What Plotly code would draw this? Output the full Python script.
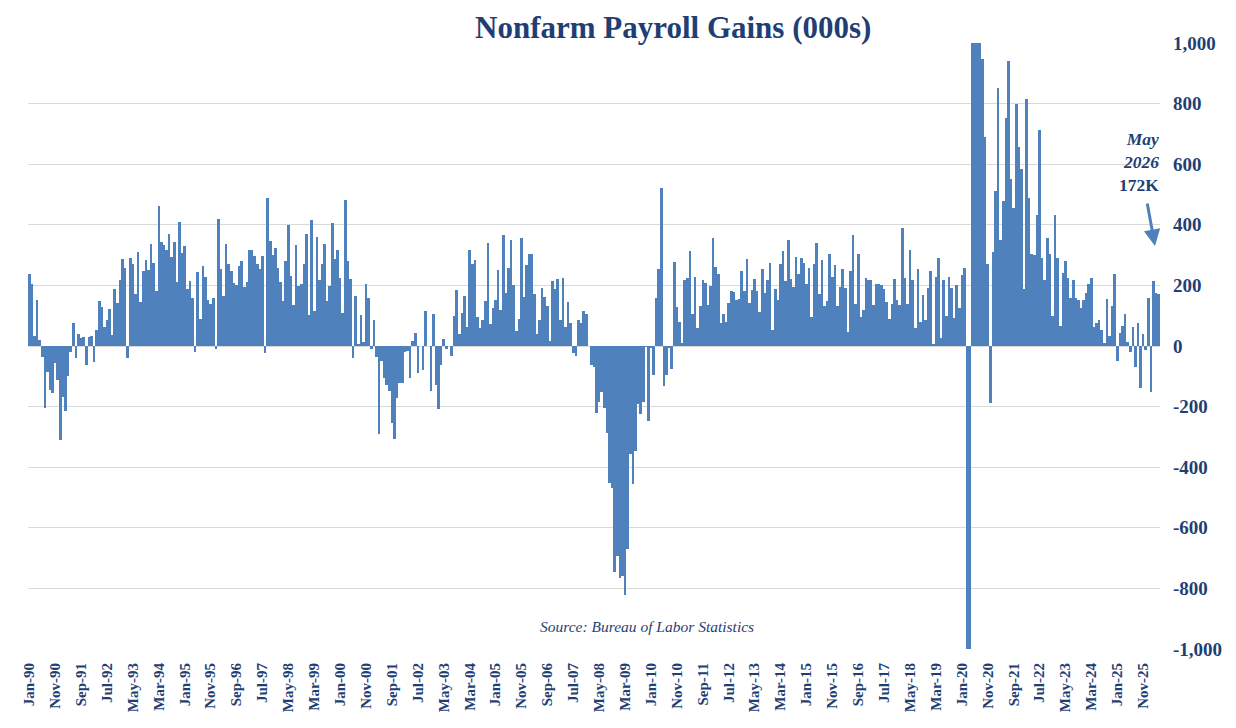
import plotly.graph_objects as go

# ---------------- data (thousands of jobs, monthly change) ----------------
y1990 = [237, 204, 33, 152, 20, -35, -205, -85, -145, -154, -55, -112]
y1991 = [-310, -167, -216, -98, -20, 75, -38, 40, 25, 30, -62, 29]
y1992 = [33, -52, 53, 148, 130, 62, 86, 123, 35, 188, 143, 218]
y1993 = [287, 257, -40, 292, 270, 171, 310, 146, 248, 283, 250, 336]
y1994 = [275, 182, 461, 344, 333, 316, 369, 295, 343, 212, 409, 308]
y1995 = [330, 189, 215, 159, -19, 244, 90, 264, 227, 152, 138, 159]
y1996 = [-9, 419, 253, 165, 336, 270, 248, 209, 201, 264, 280, 196]
y1997 = [211, 316, 316, 297, 270, 255, 297, -24, 488, 345, 300, 323]
y1998 = [256, 211, 148, 280, 398, 231, 135, 333, 199, 203, 269, 371]
y1999 = [102, 415, 115, 359, 218, 269, 336, 148, 199, 405, 287, 316]
y2000 = [226, 109, 481, 280, 221, -41, 165, 7, 101, 13, 203, 159]
y2001 = [-11, 86, -35, -291, -49, -107, -129, -148, -253, -308, -170, -123]
y2002 = [-121, -20, -15, -104, 16, 43, -88, 0, -78, 115, 0, -150]
y2003 = [105, -130, -207, -62, 23, -11, 0, -32, 99, 185, 41, 109]
y2004 = [165, 64, 316, 271, 284, 96, 60, 86, 148, 340, 74, 125]
y2005 = [152, 251, 119, 366, 176, 258, 349, 201, 51, 88, 356, 163]
y2006 = [267, 303, 303, 171, 41, 86, 191, 162, 132, 16, 213, 189]
y2007 = [221, 87, 224, 64, 145, 76, -22, -32, 86, 76, 115, 107]
y2008 = [0, -63, -69, -220, -186, -151, -203, -286, -451, -467, -747, -692]
y2009 = [-766, -760, -823, -670, -356, -457, -346, -191, -225, -184, -2, -249]
y2010 = [-8, -95, 158, 254, 521, -131, -95, -5, -76, 277, 129, 79]
y2011 = [9, 218, 224, 313, 105, 227, 59, 132, 218, 208, 135, 198]
y2012 = [356, 260, 237, 76, 105, 79, 142, 181, 178, 152, 155, 247]
y2013 = [181, 287, 142, 185, 221, 181, 112, 254, 174, 218, 274, 53]
y2014 = [187, 152, 270, 313, 215, 349, 221, 196, 293, 237, 290, 274]
y2015 = [205, 257, 97, 270, 340, 171, 283, 132, 148, 303, 227, 267]
y2016 = [132, 195, 254, 191, 46, 247, 365, 138, 303, 97, 119, 224]
y2017 = [218, 218, 134, 205, 205, 201, 187, 145, 90, 138, 221, 152]
y2018 = [136, 391, 224, 137, 317, 217, 59, 255, 80, 167, 87, 191]
y2019 = [248, 7, 227, 292, 26, 217, 98, 228, 192, 94, 202, 124]
y2020 = [235, 258, -1400, -20500, 2700, 4500, 1700, 1500, 947, 689, 269, -187]
y2021 = [311, 513, 852, 351, 477, 752, 941, 550, 454, 798, 656, 584]
y2022 = [188, 816, 487, 305, 300, 433, 712, 289, 218, 355, 302, 99]
y2023 = [432, 289, 66, 240, 280, 223, 160, 218, 159, 152, 126, 152]
y2024 = [174, 203, 226, 64, 75, 86, 53, 11, 154, 33, 132, 236]
y2025 = [-48, 44, 67, 105, 13, -19, 64, -68, 76, -140, 40, -13]
y2026 = [160, -153, 214, 176, 172]

years = list(range(1990, 2027))
month_names = ["Jan", "Feb", "Mar", "Apr", "May", "Jun",
               "Jul", "Aug", "Sep", "Oct", "Nov", "Dec"]
series_by_year = [y1990, y1991, y1992, y1993, y1994, y1995, y1996, y1997,
                  y1998, y1999, y2000, y2001, y2002, y2003, y2004, y2005,
                  y2006, y2007, y2008, y2009, y2010, y2011, y2012, y2013,
                  y2014, y2015, y2016, y2017, y2018, y2019, y2020, y2021,
                  y2022, y2023, y2024, y2025, y2026]

months, values = [], []
for yr, vals in zip(years, series_by_year):
    for m, v in enumerate(vals):
        months.append(f"{month_names[m]}-{yr % 100:02d}")
        values.append(v)

tick_labels = months[::10]
y_ticks = list(range(-1000, 1001, 200))
y_tick_text = [f"{v:,}" for v in y_ticks]

NAVY = "#1f3f74"
BAR = "#4f81bd"
SERIF = "Liberation Serif, Times New Roman, serif"

fig = go.Figure(go.Bar(x=months, y=values, marker_color=BAR,
                       marker_line_width=0, hoverinfo="x+y"))

W, H = 1236, 728
L, R, T, B = 28, 76, 43, 79
pw, ph = W - L - R, H - T - B

def px(xp):
    return (xp - L) / pw

def py(yp):
    return (H - B - yp) / ph

fig.update_layout(
    width=W, height=H,
    margin=dict(l=L, r=R, t=T, b=B, pad=0),
    paper_bgcolor="white", plot_bgcolor="white",
    bargap=0.0, showlegend=False,
    font=dict(family=SERIF, color=NAVY),
    xaxis=dict(type="category", categoryorder="array", categoryarray=months,
               range=[-0.5, len(months) - 0.5],
               tickmode="array", tickvals=tick_labels, ticktext=tick_labels,
               tickangle=-90, showgrid=False, showline=False, ticks="",
               ticklabelstandoff=10,
               tickfont=dict(family=SERIF, size=15, color=NAVY, weight="bold")),
    yaxis=dict(side="right", range=[-1000, 1000],
               tickmode="array", tickvals=y_ticks, ticktext=y_tick_text,
               showgrid=True, gridcolor="#d9d9d9", gridwidth=1,
               zeroline=True, zerolinecolor="#d9d9d9", zerolinewidth=1,
               showline=False, ticks="", ticklabelstandoff=12,
               tickfont=dict(family=SERIF, size=19, color=NAVY, weight="bold")),
    annotations=[
        dict(text="<b>Nonfarm Payroll Gains (000s)</b>", xref="paper", yref="paper",
             x=px(673), y=py(28), xanchor="center", yanchor="middle",
             showarrow=False, font=dict(family=SERIF, size=31, color=NAVY)),
        dict(text="<i>Source: Bureau of Labor Statistics</i>", xref="paper", yref="paper",
             x=px(647), y=py(626), xanchor="center", yanchor="middle",
             showarrow=False, font=dict(family=SERIF, size=15.5, color=NAVY)),
        dict(text="<b><i>May</i></b><br><b><i>2026</i></b><br><b>172K</b>",
             xref="paper", yref="paper", x=px(1161), y=py(162),
             xanchor="right", yanchor="middle", align="right",
             showarrow=False, font=dict(family=SERIF, size=17.5, color=NAVY)),
        dict(text="", xref="paper", yref="paper", x=px(1155), y=py(246),
             ax=-8, ay=-44, showarrow=True, arrowhead=2, arrowsize=1.1,
             arrowwidth=3, arrowcolor=BAR),
    ],
)

fig.write_html("out.html")
